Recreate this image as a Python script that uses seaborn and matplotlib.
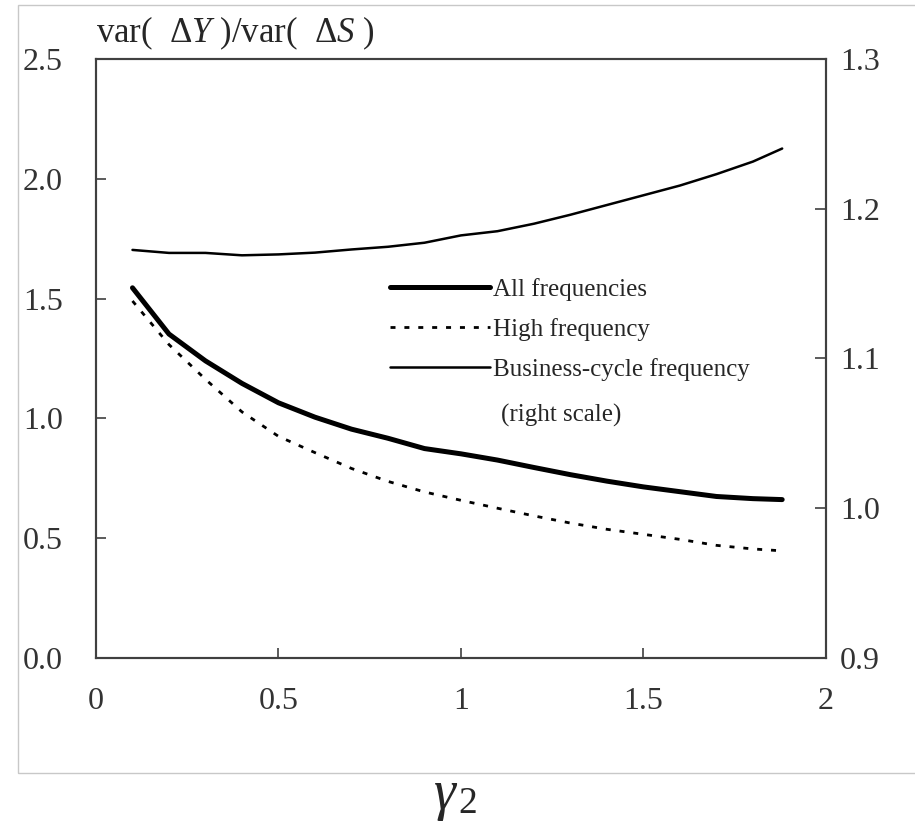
import matplotlib
matplotlib.use("Agg")
import matplotlib.pyplot as plt
import matplotlib.patches as patches
import seaborn as sns
import pandas as pd

# gamma_2 grid and the three variance ratios
gamma2 = [0.1, 0.2, 0.3, 0.4, 0.5, 0.6, 0.7, 0.8, 0.9, 1.0,
          1.1, 1.2, 1.3, 1.4, 1.5, 1.6, 1.7, 1.8, 1.88]
all_freq = [1.545, 1.352, 1.24, 1.146, 1.065, 1.005, 0.955, 0.917, 0.874, 0.852,
            0.826, 0.795, 0.765, 0.738, 0.714, 0.694, 0.674, 0.665, 0.661]
high_freq = [1.49, 1.308, 1.163, 1.027, 0.925, 0.857, 0.791, 0.737, 0.693, 0.658,
             0.625, 0.593, 0.563, 0.537, 0.516, 0.495, 0.47, 0.455, 0.447]
business_cycle = [1.1725, 1.1705, 1.1705, 1.1689, 1.1695, 1.1707, 1.1728, 1.1746, 1.1773, 1.1822,
                  1.185, 1.19, 1.196, 1.2025, 1.209, 1.2155, 1.2231, 1.2315, 1.2402]

x_ticks = [0, 0.5, 1, 1.5, 2]
x_labels = ["0", "0.5", "1", "1.5", "2"]
left_ticks = [0.0, 0.5, 1.0, 1.5, 2.0, 2.5]
left_labels = ["0.0", "0.5", "1.0", "1.5", "2.0", "2.5"]
right_ticks = [0.9, 1.0, 1.1, 1.2, 1.3]
right_labels = ["0.9", "1.0", "1.1", "1.2", "1.3"]

df = pd.DataFrame({"gamma2": gamma2, "all": all_freq,
                   "high": high_freq, "bc": business_cycle})

sns.set_style("ticks")
plt.rcParams["font.family"] = ["Liberation Serif", "DejaVu Serif"]
plt.rcParams["mathtext.fontset"] = "custom"
plt.rcParams["mathtext.rm"] = "Liberation Serif"
plt.rcParams["mathtext.it"] = "Liberation Serif:italic"

fig = plt.figure(figsize=(9.15, 8.24), dpi=100)
ax = fig.add_axes([0.1049, 0.2015, 0.7978, 0.7269])
ax2 = ax.twinx()

# light gray frame around the plot area (as in the source chart)
fig.patches.append(patches.Rectangle((18 / 915, 51 / 824), 1.0, 768 / 824,
                                     transform=fig.transFigure, fill=False,
                                     edgecolor="#c8c8c8", linewidth=1.0))

sns.lineplot(data=df, x="gamma2", y="all", ax=ax, color="black", linewidth=3.6,
             label="All frequencies", legend=False)
sns.lineplot(data=df, x="gamma2", y="high", ax=ax, color="black", linewidth=2.0,
             dashes=False, label="High frequency", legend=False)
ax.lines[1].set_dashes((1.8, 3.2))
sns.lineplot(data=df, x="gamma2", y="bc", ax=ax2, color="black", linewidth=1.8,
             label="Business-cycle frequency", legend=False)

ax.set_xlim(0, 2)
ax.set_ylim(0, 2.5)
ax2.set_ylim(0.9, 1.3)
ax.set_xlabel("")
ax.set_ylabel("")
ax2.set_ylabel("")

ax.set_xticks(x_ticks, x_labels)
ax.set_yticks(left_ticks, left_labels)
ax2.set_yticks(right_ticks, right_labels)

spine_col = "#404040"
for a in (ax, ax2):
    for s in a.spines.values():
        s.set_visible(True)
        s.set_color(spine_col)
        s.set_linewidth(1.5)
ax.tick_params(axis="y", direction="in", length=7, width=1.2, color=spine_col,
               pad=24, labelsize=23, labelcolor="#333333")
ax.tick_params(axis="x", direction="in", length=7, width=1.2, color=spine_col,
               pad=21, labelsize=23, labelcolor="#333333")
ax2.tick_params(axis="y", direction="in", length=8, width=1.2, color=spine_col,
                pad=10, labelsize=23, labelcolor="#333333")

handles = ax.lines[:2] + ax2.lines[:1]
labels = ["All frequencies", "High frequency", "Business-cycle frequency"]
ax.legend(handles, labels, loc="upper left", bbox_to_anchor=(0.403, 0.635),
          frameon=False, fontsize=18, handlelength=4.0, handletextpad=0.1,
          labelspacing=0.68, borderpad=0, borderaxespad=0)
ax.text(0.555, 0.405, "(right scale)", transform=ax.transAxes, fontsize=18,
        ha="left", va="center")

ax.text(0.0, 1.012, r"var(  $\Delta Y$ )$/$var(  $\Delta S$ )", transform=ax.transAxes,
        fontsize=25, ha="left", va="bottom")
fig.text(0.486, 0.004, "\u03b3", fontsize=40, style="italic", ha="center", va="bottom")
fig.text(0.511, 0.013, "2", fontsize=27, ha="center", va="baseline")

fig.savefig("out.png", dpi=100)
